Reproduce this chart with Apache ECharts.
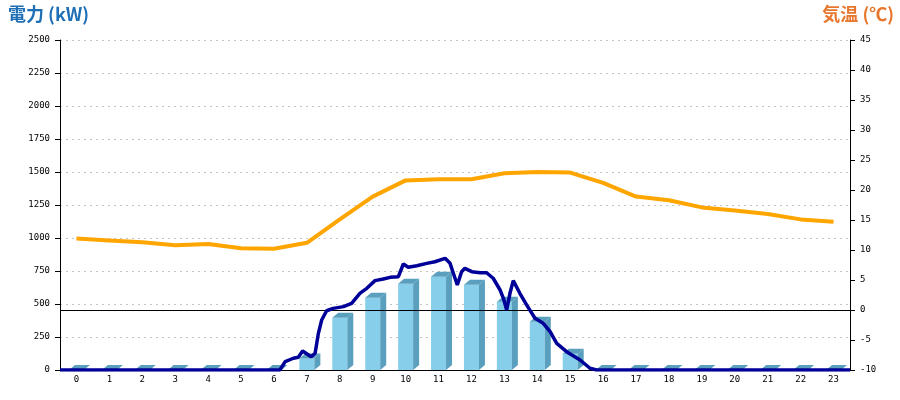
<!DOCTYPE html>
<html>
<head>
<meta charset="utf-8">
<script src="https://cdn.jsdelivr.net/npm/echarts@6/dist/echarts.min.js"></script>
<style>html,body{margin:0;padding:0;background:#fff;}#c{width:900px;height:400px;}</style>
</head>
<body>
<div id="c"></div>
<script>
// Hour categories
var hours = ['0','1','2','3','4','5','6','7','8','9','10','11','12','13','14','15','16','17','18','19','20','21','22','23'];
// Hourly power (kW) bars
var powerHourly = [0,0,0,0,0,0,0,88,396,548,654,707,646,517,366,124,0,0,0,0,0,0,0,0];
// Temperature (°C) hourly
var temperature = [11.9,11.6,11.3,10.8,11.0,10.3,10.2,11.2,15.1,18.9,21.6,21.8,21.8,22.8,23.0,22.9,21.2,18.9,18.3,17.1,16.6,16.0,15.1,14.7];
// Power trace: time (hours) and kW
var traceTime = [0,6.68,6.84,7.09,7.24,7.37,7.63,7.75,7.85,7.95,8.10,8.30,8.61,8.86,9.11,9.32,9.57,9.82,10.03,10.28,10.43,10.58,10.84,11.14,11.39,11.70,11.85,11.95,12.07,12.20,12.30,12.51,12.76,12.96,13.16,13.37,13.47,13.57,13.67,13.77,13.97,14.18,14.43,14.68,14.89,15.09,15.39,15.80,16.10,16.30,24];
var traceKW   = [0,0,63,89,96,144,101,127,278,379,449,467,480,505,581,619,677,689,702,707,803,778,790,808,820,846,808,733,644,745,770,745,737,737,695,606,543,455,581,677,581,492,392,354,290,202,139,76,13,0,0];
// Axis ticks
var leftMin = 0, leftMax = 2500, leftStep = 250;
var rightMin = -10, rightMax = 45, rightStep = 5;

var traceData = traceTime.map(function(t,i){return [t, traceKW[i]];});
var barData = powerHourly.map(function(v,i){return [i, v];});

var chart = echarts.init(document.getElementById('c'), null, {renderer:'canvas'});
var mono = 'DejaVu Sans Mono';
chart.setOption({
  animation:false,
  backgroundColor:'#fff',
  title:[
    {text:'電力 (kW)', left:8, top:5, padding:0, textStyle:{color:'#1f6fb6', fontSize:18, fontWeight:'bold', fontFamily:'Noto Sans CJK JP'}},
    {text:'気温 (℃)', right:6, top:5, padding:0, textStyle:{color:'#e8772e', fontSize:18, fontWeight:'bold', fontFamily:'Noto Sans CJK JP'}}
  ],
  grid:{left:60, right:50, top:40, bottom:30},
  xAxis:[
    {type:'category', data:hours, boundaryGap:true,
     axisLine:{show:true, lineStyle:{color:'#000', width:1}},
     axisTick:{show:false},
     axisLabel:{color:'#000', fontSize:9, fontFamily:mono, margin:5},
     splitLine:{show:false}},
    {type:'value', min:0, max:24, show:false}
  ],
  yAxis:[
    {type:'value', min:leftMin, max:leftMax, interval:leftStep, position:'left',
     axisLine:{show:true, lineStyle:{color:'#000', width:1}},
     axisTick:{show:true, length:5, lineStyle:{color:'#000'}},
     axisLabel:{color:'#000', fontSize:9, fontFamily:mono, margin:10, formatter:function(v){return String(v);}},
     splitLine:{show:true, lineStyle:{color:'#c4c4c4', type:[2,4], width:1}}},
    {type:'value', min:rightMin, max:rightMax, interval:rightStep, position:'right',
     axisLine:{show:true, onZero:false, lineStyle:{color:'#000', width:1}},
     axisTick:{show:true, length:5, lineStyle:{color:'#000'}},
     axisLabel:{color:'#000', fontSize:9, fontFamily:mono, margin:10, formatter:function(v){return String(v);}},
     splitLine:{show:false}}
  ],
  series:[
    {type:'custom', xAxisIndex:0, yAxisIndex:0, data:barData, z:2,
     encode:{x:0, y:1},
     renderItem:function(params, api){
       var top = api.coord([api.value(0), api.value(1)]);
       var base = api.coord([api.value(0), 0]);
       var hw = 7.5, dx = 6, dy = 5;
       var xl = top[0]-hw, xr = top[0]+hw, yt = top[1], yb = base[1];
       return {type:'group', children:[
         {type:'rect', shape:{x:xl, y:yt, width:xr-xl, height:yb-yt}, style:{fill:'#87ceeb'}},
         {type:'polygon', shape:{points:[[xr,yt],[xr+dx,yt-dy],[xr+dx,yb-dy],[xr,yb]]}, style:{fill:'#5a9fbd'}},
         {type:'polygon', shape:{points:[[xl,yt],[xl+dx,yt-dy],[xr+dx,yt-dy],[xr,yt]]}, style:{fill:'#5a9fbd'}}
       ]};
     }},
    {type:'line', xAxisIndex:0, yAxisIndex:1, data:temperature, z:3,
     showSymbol:false, symbol:'none', smooth:false,
     lineStyle:{color:'#ffa500', width:4},
     markLine:{silent:true, symbol:['none','none'], label:{show:false},
       lineStyle:{color:'#000', width:1, type:'solid'},
       data:[{yAxis:0}]}},
    {type:'line', xAxisIndex:1, yAxisIndex:0, data:traceData, z:5,
     showSymbol:false, symbol:'none', smooth:false,
     lineStyle:{color:'#000099', width:3.5}}
  ]
});
</script>
</body>
</html>
